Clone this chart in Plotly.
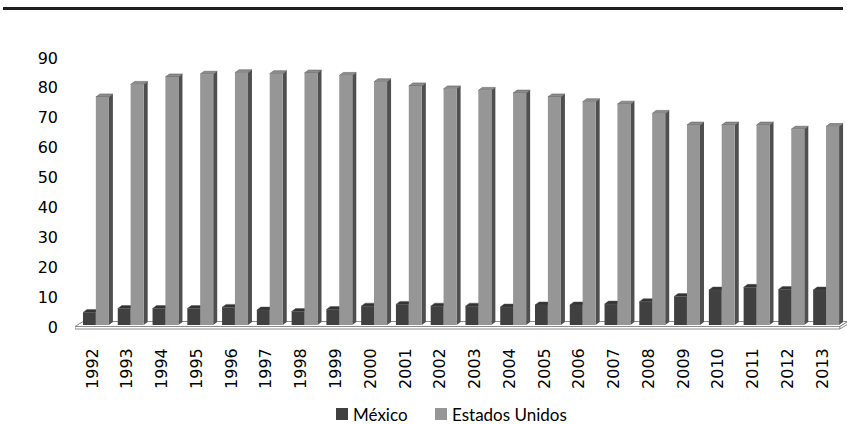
import plotly.graph_objects as go

# ---- data -------------------------------------------------------------
years = ["1992", "1993", "1994", "1995", "1996", "1997", "1998", "1999",
         "2000", "2001", "2002", "2003", "2004", "2005", "2006", "2007",
         "2008", "2009", "2010", "2011", "2012", "2013"]
mexico = [4.2, 5.5, 5.5, 5.5, 5.9, 5.0, 4.5, 5.2, 6.3, 6.9, 6.3,
          6.3, 6.0, 6.7, 6.7, 7.0, 7.8, 9.5, 11.7, 12.6, 11.9, 11.7]
estados_unidos = [76.3, 80.5, 83.0, 83.9, 84.4, 84.1, 84.3, 83.5, 81.4, 80.0, 79.0,
                  78.5, 77.6, 76.3, 74.7, 73.9, 70.8, 66.9, 66.9, 66.9, 65.5, 66.4]
y_ticks = [0, 10, 20, 30, 40, 50, 60, 70, 80, 90]

# ---- geometry ---------------------------------------------------------
W, H = 847, 424
ML, MR, MT, MB = 75, 0, 51, 94
PX_PER_CAT = 34.77
Y_MIN, Y_MAX = -1.673, 91.67
plot_w = W - ML - MR
plot_h = H - MT - MB

# depth vector of each column (category units, value units)
DX, DY = 0.115, 1.0
# depth vector of the floor slab
FDX, FDY = 0.23, 1.67

series = [
    dict(name="México", values=mexico, offset=-0.27, width=0.37,
         front="#404040", side="#262626", top="#333333"),
    dict(name="Estados Unidos", values=estados_unidos, offset=0.10, width=0.375,
         front="#969696", side="#4f4f4f", top="#8c8c8c"),
]

x_pos = list(range(len(years)))
x_lo, x_hi = -0.5, len(years) - 0.5

fig = go.Figure()
for s in series:
    fig.add_trace(go.Bar(
        x=x_pos, y=s["values"], name=s["name"],
        offset=s["offset"], width=s["width"],
        marker=dict(color=s["front"], line=dict(width=0)),
        showlegend=False,
    ))

shapes = []
floor_line = dict(color="#8c8c8c", width=1)
# floor slab: top, front and right faces
shapes.append(dict(type="path", xref="x", yref="y", layer="below",
                   path=f"M {x_lo},-0.5 L {x_hi},-0.5 L {x_hi + FDX},{-0.5 + FDY} "
                        f"L {x_lo + FDX},{-0.5 + FDY} Z",
                   fillcolor="white", line=floor_line))
shapes.append(dict(type="path", xref="x", yref="y", layer="below",
                   path=f"M {x_lo},-0.5 L {x_hi},-0.5 L {x_hi},-1.34 L {x_lo},-1.34 Z",
                   fillcolor="white", line=floor_line))
shapes.append(dict(type="path", xref="x", yref="y", layer="below",
                   path=f"M {x_hi},-0.5 L {x_hi + FDX},{-0.5 + FDY} "
                        f"L {x_hi + FDX},{-1.34 + FDY} L {x_hi},-1.34 Z",
                   fillcolor="white", line=floor_line))

# side and top faces of every column
for s in series:
    for i, v in zip(x_pos, s["values"]):
        left = i + s["offset"]
        right = left + s["width"]
        shapes.append(dict(
            type="path", xref="x", yref="y", layer="below",
            path=f"M {right},0 L {right + DX},{DY} L {right + DX},{v + DY} L {right},{v} Z",
            fillcolor=s["side"], line=dict(width=0)))
        shapes.append(dict(
            type="path", xref="x", yref="y", layer="below",
            path=f"M {left},{v} L {right},{v} L {right + DX},{v + DY} L {left + DX},{v + DY} Z",
            fillcolor=s["top"], line=dict(color="#555555", width=0.5)))

# rule across the top of the page
shapes.append(dict(type="line", xref="paper", yref="paper",
                   x0=(3 - ML) / plot_w, x1=(843 - ML) / plot_w,
                   y0=(H - MB - 8.5) / plot_h, y1=(H - MB - 8.5) / plot_h,
                   line=dict(color="#1f1f1f", width=3)))

# legend: colour key squares followed by the series names
def px_x(px):
    return (px - ML) / plot_w


def px_y(px):
    return (H - MB - px) / plot_h


annotations = []
legend_items = [(series[0], 336), (series[1], 435)]
for s, x_left in legend_items:
    shapes.append(dict(type="rect", xref="paper", yref="paper",
                       x0=px_x(x_left), x1=px_x(x_left + 12),
                       y0=px_y(420), y1=px_y(408),
                       fillcolor=s["front"], line=dict(width=0)))
    annotations.append(dict(xref="paper", yref="paper",
                            x=px_x(x_left + 15), y=px_y(414),
                            xanchor="left", yanchor="middle", showarrow=False,
                            text=s["name"],
                            font=dict(family="Lato", size=17, color="#000000")))

fig.update_layout(
    width=W, height=H,
    margin=dict(l=ML, r=MR, t=MT, b=MB, pad=0),
    paper_bgcolor="white", plot_bgcolor="white",
    barmode="overlay",
    shapes=shapes,
    annotations=annotations,
    showlegend=False,
    xaxis=dict(range=[x_lo, x_lo + plot_w / PX_PER_CAT],
               tickmode="array", tickvals=x_pos, ticktext=years,
               tickangle=-90, showgrid=False, zeroline=False, showline=False,
               ticks="", ticklabelstandoff=14,
               tickfont=dict(family="DejaVu Sans", size=16, color="#000000")),
    yaxis=dict(range=[Y_MIN, Y_MAX], tickmode="array", tickvals=y_ticks,
               showgrid=False, zeroline=False, showline=False, ticks="",
               ticklabelstandoff=16, ticklabelshift=2,
               tickfont=dict(family="DejaVu Sans", size=16, color="#000000")),
)

fig.write_html("out.html")
